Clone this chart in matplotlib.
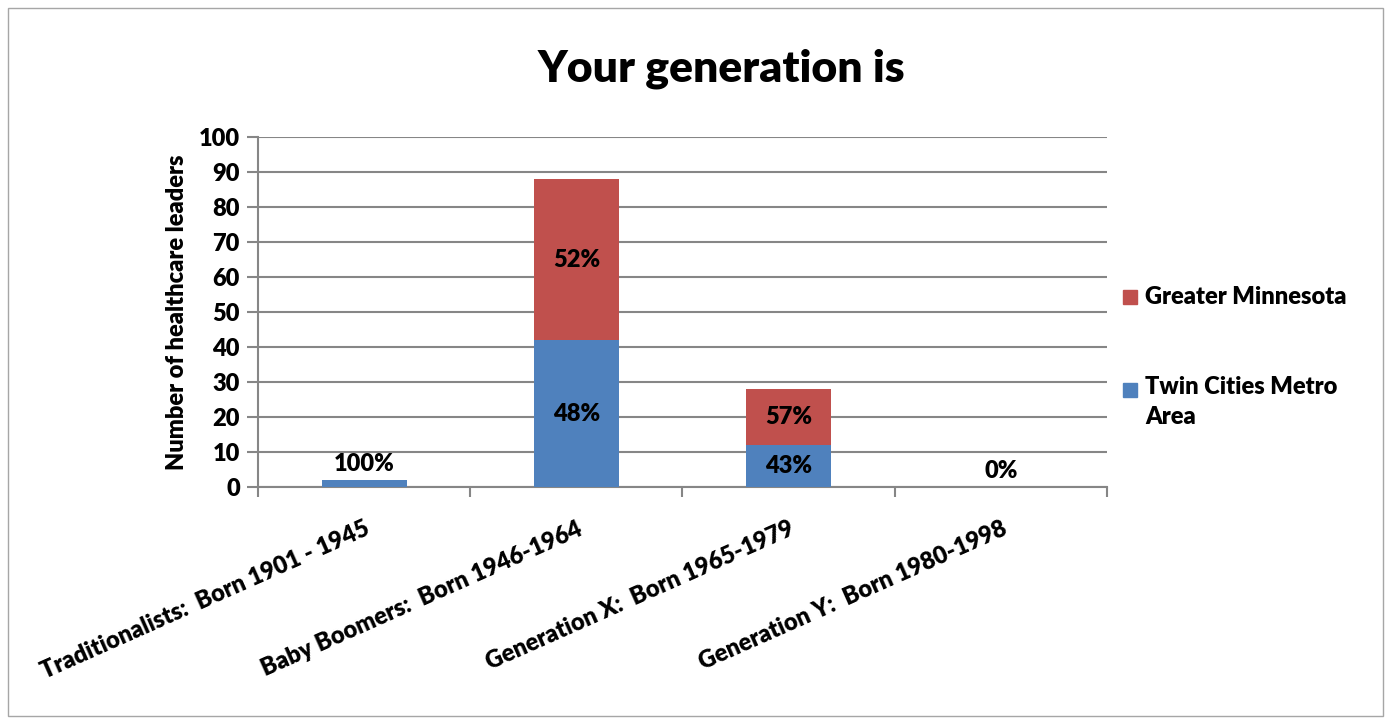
import numpy as np
import matplotlib
matplotlib.use("Agg")
import matplotlib.pyplot as plt
from matplotlib.patches import Rectangle

plt.rcParams['font.family'] = ['Lato', 'DejaVu Sans']

# data
categories = ["Traditionalists:  Born 1901 - 1945",
              "Baby Boomers:  Born 1946-1964",
              "Generation X:  Born 1965-1979",
              "Generation Y:  Born 1980-1998"]
twin_cities = [2, 42, 12, 0]
greater_mn = [0, 46, 16, 0]
twin_pct = ["100%", "48%", "43%", "0%"]
greater_pct = ["", "52%", "57%", ""]
series_names = ["Twin Cities Metro\nArea", "Greater Minnesota"]

blue = '#4F81BD'
red = '#C0504D'
grid_c = '#868686'

fig = plt.figure(figsize=(13.9, 7.21), dpi=100)
ax = fig.add_axes([0.1856, 0.3245, 0.6108, 0.4854])

x = np.arange(len(categories))
tw = np.array(twin_cities)
gm = np.array(greater_mn)
ax.bar(x, tw, width=0.4, color=blue, zorder=3)
ax.bar(x, gm, width=0.4, bottom=tw, color=red, zorder=3)

# data labels
for i in range(len(x)):
    if tw[i] >= 8:
        ax.text(x[i], tw[i] / 2, twin_pct[i], ha='center', va='center',
                fontsize=17, fontweight='heavy', zorder=4)
    else:
        ax.text(x[i], tw[i] + 4.5, twin_pct[i], ha='center', va='center',
                fontsize=17, fontweight='heavy', zorder=4)
    if greater_pct[i]:
        ax.text(x[i], tw[i] + gm[i] / 2, greater_pct[i], ha='center', va='center',
                fontsize=17, fontweight='heavy', zorder=4)

ax.set_xlim(-0.5, 3.5)
ax.set_ylim(0, 100)
ax.set_yticks(np.arange(0, 101, 10))
ax.tick_params(axis='y', labelsize=17, length=8, width=1.5, color=grid_c, pad=5)
for lbl in ax.get_yticklabels():
    lbl.set_fontweight('heavy')
ax.yaxis.grid(True, color=grid_c, linewidth=1.5, zorder=0)
ax.set_axisbelow(True)

ax.set_xticks(x)
ax.set_xticklabels(categories, rotation=24, ha='right', va='top',
                   rotation_mode='anchor', fontsize=17, fontweight='heavy')
ax.tick_params(axis='x', which='major', length=0, pad=22)
ax.set_xticks(np.arange(-0.5, 4, 1), minor=True)
ax.tick_params(axis='x', which='minor', length=7, width=1.5, color=grid_c)

for s in ['top', 'right']:
    ax.spines[s].set_visible(False)
for s in ['left', 'bottom']:
    ax.spines[s].set_color(grid_c)
    ax.spines[s].set_linewidth(1.5)

ax.set_ylabel("Number of healthcare leaders", fontsize=17, fontweight='heavy', labelpad=8)

fig.text(0.519, 0.905, "Your generation is", ha='center', va='center',
         fontsize=32, fontweight='heavy')

# legend drawn by hand so the square sits on the first text line
sq_w = 14 / 1390
sq_h = 14 / 721
fig.patches.append(Rectangle((1123 / 1390, 1 - 304 / 721), sq_w, sq_h,
                             transform=fig.transFigure, color=red))
fig.text(1145 / 1390, 1 - 297 / 721, series_names[1], ha='left', va='center',
         fontsize=17, fontweight='heavy')
fig.patches.append(Rectangle((1123 / 1390, 1 - 397 / 721), sq_w, sq_h,
                             transform=fig.transFigure, color=blue))
fig.text(1145 / 1390, 1 - 376 / 721, series_names[0], ha='left', va='top',
         fontsize=17, fontweight='heavy', linespacing=1.45)

# chart border
fig.patches.append(Rectangle((8 / 1390, 5 / 721), 1375 / 1390, 708 / 721,
                             transform=fig.transFigure, fill=False,
                             edgecolor='#a6a6a6', linewidth=1))

fig.savefig("out.png", dpi=100)
